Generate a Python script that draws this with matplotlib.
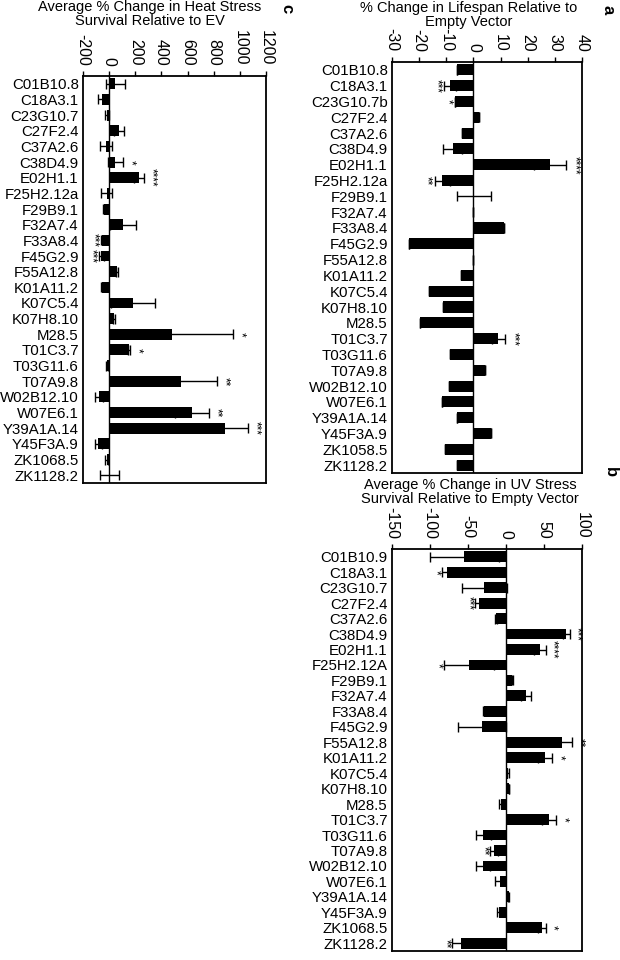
import matplotlib.pyplot as plt
import numpy as np

plt.rcParams['font.family'] = ['Liberation Sans', 'DejaVu Sans']

# panel c: heat stress
heat_genes = ["C01B10.8", "C18A3.1", "C23G10.7", "C27F2.4", "C37A2.6", "C38D4.9",
              "E02H1.1", "F25H2.12a", "F29B9.1", "F32A7.4", "F33A8.4", "F45G2.9",
              "F55A12.8", "K01A11.2", "K07C5.4", "K07H8.10", "M28.5", "T01C3.7",
              "T03G11.6", "T07A9.8", "W02B12.10", "W07E6.1", "Y39A1A.14", "Y45F3A.9",
              "ZK1068.5", "ZK1128.2"]
heat_vals = [48, -51, -15, 74, -25, 48, 230, -20, -40, 107, -51, -61, 61, -51,
             184, 38, 482, 150, -15, 548, -77, 633, 883, -82, -20, 5]
heat_err = [72, 38, 13, 38, 44, 60, 38, 40, 10, 100, 15, 20, 10, 13,
            166, 10, 464, 8, 10, 280, 28, 133, 179, 30, 8, 72]
heat_sig = ["", "", "", "", "", "*", "****", "", "", "", "***", "***", "", "",
            "", "", "*", "*", "", "**", "", "**", "***", "", "", ""]

# panel a: lifespan
life_genes = ["C01B10.8", "C18A3.1", "C23G10.7b", "C27F2.4", "C37A2.6", "C38D4.9",
              "E02H1.1", "F25H2.12a", "F29B9.1", "F32A7.4", "F33A8.4", "F45G2.9",
              "F55A12.8", "K01A11.2", "K07C5.4", "K07H8.10", "M28.5", "T01C3.7",
              "T03G11.6", "T07A9.8", "W02B12.10", "W07E6.1", "Y39A1A.14", "Y45F3A.9",
              "ZK1058.5", "ZK1128.2"]
life_vals = [-6.0, -8.6, -6.8, 2.1, -4.3, -7.7, 28.3, -11.4, 0.3, 0, 11.1, -23.6,
             0, -4.7, -16.2, -11.1, -19.8, 9.2, -8.7, 4.4, -9.0, -11.7, -6.0, 6.3,
             -10.4, -6.0]
life_err = [0, 2.1, 0, 0, 0, 3.6, 5.9, 2.8, 6.3, 0, 0, 0, 0, 0, 0, 0, 0, 2.5,
            0, 0, 0, 0, 0, 0, 0, 0]
life_sig = ["", "***", "*", "", "", "", "****", "**", "", "", "", "", "", "",
            "", "", "", "***", "", "", "", "", "", "", "", ""]

# panel b: UV stress
uv_genes = ["C01B10.9", "C18A3.1", "C23G10.7", "C27F2.4", "C37A2.6", "C38D4.9",
            "E02H1.1", "F25H2.12A", "F29B9.1", "F32A7.4", "F33A8.4", "F45G2.9",
            "F55A12.8", "K01A11.2", "K07C5.4", "K07H8.10", "M28.5", "T01C3.7",
            "T03G11.6", "T07A9.8", "W02B12.10", "W07E6.1", "Y39A1A.14", "Y45F3A.9",
            "ZK1068.5", "ZK1128.2"]
uv_vals = [-54.8, -78, -28.5, -36, -13, 79.4, 44.3, -48.7, 8.3, 26.3, -28.5, -31.1,
           73.7, 51.3, 2.6, 4, -6.1, 57, -29.8, -15.4, -30.3, -8.3, 3.5, -9.6,
           46.9, -58.8]
uv_err = [45.6, 6, 29.4, 5, 1, 4.4, 7.9, 33, 1, 6.1, 2, 31.6, 13.6, 9.6, 1, 0.5,
          3, 9.2, 10, 5.3, 9.6, 5.7, 1, 2, 5.3, 12.7]
uv_sig = ["", "*", "", "***", "", "***", "****", "*", "", "", "", "", "**", "*",
          "", "", "", "*", "", "**", "", "", "", "", "*", "**"]

W, H = 620, 960


def draw_panel(fig, box, genes, vals, errs, sigs, xlim, ticks, title,
               title_xy, letter, letter_xy, gap):
    # box = (left, top, right, bottom) in pixels from the top-left corner
    l, t, r, b = box
    ax = fig.add_axes([l / W, 1 - b / H, (r - l) / W, (b - t) / H])
    y = np.arange(len(genes))
    ax.barh(y, vals, height=0.7, color='black', zorder=3)
    ax.errorbar(vals, y, xerr=errs, fmt='none', ecolor='black',
                elinewidth=1, capsize=3.5, capthick=1, zorder=2)
    ax.axvline(0, color='black', lw=1, zorder=4)
    for yi, v, e, s in zip(y, vals, errs, sigs):
        if not s:
            continue
        xs = v + e + gap if v >= 0 else v - e - gap
        ax.text(xs, yi, s, rotation=-90, ha='center', va='center',
                fontsize=8.5, linespacing=0.7)
    ax.set_xlim(*xlim)
    ax.set_ylim(len(genes) - 0.5, -0.5)
    ax.set_yticks(y)
    ax.set_yticklabels(genes, fontsize=10.8)
    ax.tick_params(axis='y', length=0, pad=3)
    ax.xaxis.tick_top()
    ax.set_xticks(ticks)
    ax.set_xticklabels([str(t) for t in ticks], rotation=-90, fontsize=11.5)
    ax.tick_params(axis='x', direction='out', length=3.5, pad=4, width=1)
    for sp in ax.spines.values():
        sp.set_linewidth(1.3)
    fig.text(title_xy[0] / W, 1 - title_xy[1] / H, title, fontsize=10.5,
             ha='center', va='center', linespacing=0.95)
    fig.text(letter_xy[0] / W, 1 - letter_xy[1] / H, letter, rotation=-90,
             fontsize=12, fontweight='bold', ha='center', va='center')
    return ax


fig = plt.figure(figsize=(6.2, 9.6), dpi=100)

draw_panel(fig, (83, 76, 266, 483), heat_genes, heat_vals, heat_err,
           heat_sig, (-200, 1200), [-200, 0, 200, 400, 600, 800, 1000, 1200],
           "Average % Change in Heat Stress\nSurvival Relative to EV", (150, 14),
           "c", (287, 9), 55)

draw_panel(fig, (392, 62, 582, 473), life_genes, life_vals, life_err,
           life_sig, (-30, 40), [-30, -20, -10, 0, 10, 20, 30, 40],
           "% Change in Lifespan Relative to\nEmpty Vector", (469, 15),
           "a", (608, 10), 3)

draw_panel(fig, (392, 549, 582, 951), uv_genes, uv_vals, uv_err,
           uv_sig, (-150, 100), [-150, -100, -50, 0, 50, 100],
           "Average % Change in UV Stress\nSurvival Relative to Empty Vector",
           (470, 492), "b", (610, 472), 9)

fig.savefig("out.png", dpi=100)
